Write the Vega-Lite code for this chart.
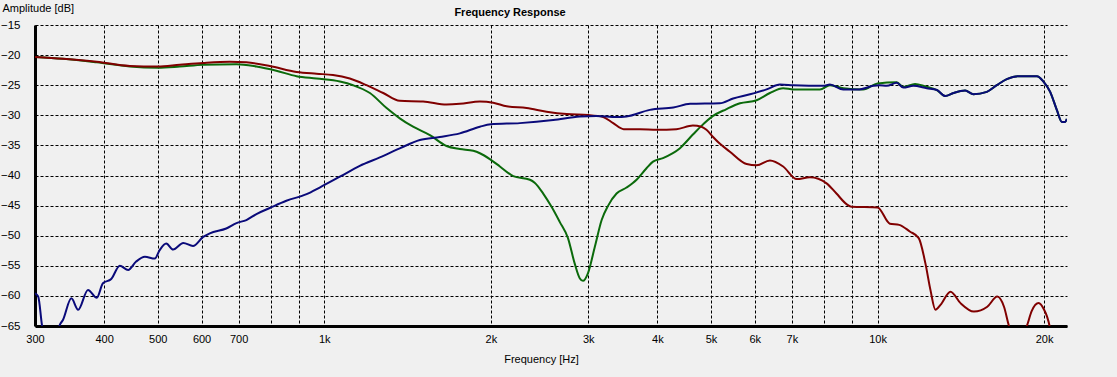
{
  "$schema": "https://vega.github.io/schema/vega-lite/v6.json",
  "width": 1032,
  "height": 301,
  "autosize": {"type": "none"},
  "padding": {"left": 35, "top": 25, "right": 50, "bottom": 51},
  "background": "#f0f0f0",
  "title": {"text": "Frequency Response", "anchor": "middle", "dx": -41, "dy": 24, "offset": 8, "font": "Liberation Sans", "fontSize": 11, "fontWeight": "bold", "color": "#000000"},
  "config": {"view": {"stroke": null}, "font": "Liberation Sans", "axis": {"labelOverlap": false, "labelSeparation": 0}},
  "datasets": {
    "red": [
      {"f": 300, "db": -20.3}, {"f": 337, "db": -20.6}, {"f": 388, "db": -21.1}, {"f": 445, "db": -21.8},
      {"f": 500, "db": -21.9}, {"f": 548, "db": -21.6}, {"f": 604, "db": -21.3}, {"f": 675, "db": -21.1},
      {"f": 723, "db": -21.2}, {"f": 797, "db": -21.8}, {"f": 891, "db": -22.8}, {"f": 968, "db": -23.1},
      {"f": 1037, "db": -23.3}, {"f": 1112, "db": -23.9}, {"f": 1192, "db": -25.0}, {"f": 1278, "db": -26.3},
      {"f": 1369, "db": -27.6}, {"f": 1509, "db": -27.7}, {"f": 1663, "db": -28.2}, {"f": 1758, "db": -28.1},
      {"f": 1911, "db": -27.7}, {"f": 2020, "db": -27.9}, {"f": 2136, "db": -28.5}, {"f": 2321, "db": -28.8},
      {"f": 2522, "db": -29.4}, {"f": 2742, "db": -29.8}, {"f": 3000, "db": -29.95}, {"f": 3193, "db": -30.3},
      {"f": 3328, "db": -31.3}, {"f": 3477, "db": -32.3}, {"f": 3720, "db": -32.3}, {"f": 3988, "db": -32.4},
      {"f": 4330, "db": -32.3}, {"f": 4637, "db": -31.7}, {"f": 4803, "db": -31.9}, {"f": 4906, "db": -32.4},
      {"f": 5043, "db": -33.6}, {"f": 5184, "db": -34.7}, {"f": 5402, "db": -36.0}, {"f": 5800, "db": -38.1},
      {"f": 6045, "db": -38.3}, {"f": 6389, "db": -37.5}, {"f": 6751, "db": -38.5}, {"f": 7144, "db": -40.6},
      {"f": 7547, "db": -40.3}, {"f": 8089, "db": -41.3}, {"f": 8428, "db": -43.0}, {"f": 8800, "db": -44.8},
      {"f": 8975, "db": -45.2}, {"f": 10000, "db": -45.3}, {"f": 10525, "db": -48.0}, {"f": 10944, "db": -48.2},
      {"f": 11436, "db": -49.3}, {"f": 11870, "db": -50.4}, {"f": 12204, "db": -54.6}, {"f": 12462, "db": -59.0},
      {"f": 12725, "db": -62.3}, {"f": 12993, "db": -61.5}, {"f": 13547, "db": -59.3}, {"f": 14124, "db": -61.2},
      {"f": 14934, "db": -62.6}, {"f": 15789, "db": -61.8}, {"f": 16461, "db": -60.1}, {"f": 16926, "db": -61.8},
      {"f": 17281, "db": -65.0}, {"f": 17900, "db": -68.0}, {"f": 18613, "db": -65.0}, {"f": 19000, "db": -62.5},
      {"f": 19553, "db": -61.2}, {"f": 20000, "db": -62.3}, {"f": 20240, "db": -63.4}, {"f": 20462, "db": -65.0},
      {"f": 20700, "db": -68.0}
    ],
    "green": [
      {"f": 300, "db": -20.3}, {"f": 337, "db": -20.6}, {"f": 388, "db": -21.2}, {"f": 445, "db": -21.9},
      {"f": 500, "db": -22.1}, {"f": 548, "db": -21.9}, {"f": 604, "db": -21.6}, {"f": 694, "db": -21.5},
      {"f": 754, "db": -21.9}, {"f": 819, "db": -22.6}, {"f": 891, "db": -23.5}, {"f": 968, "db": -23.9},
      {"f": 1067, "db": -24.4}, {"f": 1127, "db": -25.0}, {"f": 1209, "db": -26.3}, {"f": 1296, "db": -28.8},
      {"f": 1369, "db": -30.5}, {"f": 1447, "db": -31.9}, {"f": 1552, "db": -33.3}, {"f": 1663, "db": -35.1},
      {"f": 1758, "db": -35.6}, {"f": 1859, "db": -35.9}, {"f": 1911, "db": -36.3}, {"f": 2000, "db": -37.4},
      {"f": 2077, "db": -38.5}, {"f": 2195, "db": -40.1}, {"f": 2353, "db": -40.7}, {"f": 2400, "db": -41.2},
      {"f": 2487, "db": -43.0}, {"f": 2575, "db": -45.2}, {"f": 2664, "db": -47.7}, {"f": 2757, "db": -50.4},
      {"f": 2835, "db": -54.6}, {"f": 2897, "db": -57.1}, {"f": 2935, "db": -57.5}, {"f": 2997, "db": -56.2},
      {"f": 3084, "db": -51.8}, {"f": 3172, "db": -47.4}, {"f": 3259, "db": -45.0}, {"f": 3375, "db": -43.0},
      {"f": 3518, "db": -42.0}, {"f": 3668, "db": -40.7}, {"f": 3823, "db": -38.8}, {"f": 3928, "db": -37.7},
      {"f": 4094, "db": -37.1}, {"f": 4389, "db": -35.5}, {"f": 4637, "db": -33.2}, {"f": 4800, "db": -31.8},
      {"f": 5043, "db": -30.1}, {"f": 5324, "db": -29.0}, {"f": 5641, "db": -28.0}, {"f": 6045, "db": -27.5},
      {"f": 6389, "db": -26.3}, {"f": 6751, "db": -25.5}, {"f": 7045, "db": -25.7}, {"f": 7868, "db": -25.7},
      {"f": 8203, "db": -25.0}, {"f": 8673, "db": -25.5}, {"f": 9417, "db": -25.7}, {"f": 10000, "db": -24.7},
      {"f": 10831, "db": -24.5}, {"f": 11135, "db": -25.3}, {"f": 11690, "db": -24.8}, {"f": 12190, "db": -25.2},
      {"f": 12802, "db": -25.8}, {"f": 13251, "db": -26.8}, {"f": 13717, "db": -26.3}, {"f": 14398, "db": -25.9},
      {"f": 14904, "db": -26.5}, {"f": 15760, "db": -26.1}, {"f": 16428, "db": -25.0}, {"f": 17124, "db": -24.0},
      {"f": 17970, "db": -23.5}, {"f": 19409, "db": -23.5}, {"f": 19948, "db": -24.4}, {"f": 20512, "db": -26.1},
      {"f": 21086, "db": -29.1}, {"f": 21535, "db": -31.1}, {"f": 21834, "db": -31.1}, {"f": 21987, "db": -30.6}
    ],
    "blue": [
      {"f": 300, "db": -59.6}, {"f": 304, "db": -60.1}, {"f": 309, "db": -65.0}, {"f": 318, "db": -69.0},
      {"f": 328, "db": -67.0}, {"f": 332, "db": -65.0}, {"f": 337, "db": -64.0}, {"f": 349, "db": -60.4},
      {"f": 359, "db": -62.3}, {"f": 374, "db": -59.0}, {"f": 388, "db": -60.3}, {"f": 398, "db": -57.9},
      {"f": 412, "db": -57.2}, {"f": 427, "db": -55.0}, {"f": 442, "db": -55.7}, {"f": 457, "db": -54.3},
      {"f": 474, "db": -53.5}, {"f": 494, "db": -53.8}, {"f": 504, "db": -52.4}, {"f": 518, "db": -51.3},
      {"f": 533, "db": -52.3}, {"f": 556, "db": -51.2}, {"f": 579, "db": -51.7}, {"f": 604, "db": -50.2},
      {"f": 621, "db": -49.6}, {"f": 665, "db": -48.8}, {"f": 694, "db": -47.9}, {"f": 723, "db": -47.4},
      {"f": 754, "db": -46.4}, {"f": 797, "db": -45.4}, {"f": 854, "db": -44.2}, {"f": 929, "db": -43.1},
      {"f": 981, "db": -42.0}, {"f": 1067, "db": -40.2}, {"f": 1159, "db": -38.4}, {"f": 1260, "db": -37.0},
      {"f": 1369, "db": -35.5}, {"f": 1488, "db": -34.1}, {"f": 1618, "db": -33.6}, {"f": 1758, "db": -33.0},
      {"f": 1911, "db": -31.9}, {"f": 2000, "db": -31.5}, {"f": 2257, "db": -31.3}, {"f": 2593, "db": -30.8},
      {"f": 2897, "db": -30.2}, {"f": 3102, "db": -30.1}, {"f": 3375, "db": -30.3}, {"f": 3518, "db": -30.2},
      {"f": 3876, "db": -29.1}, {"f": 4274, "db": -28.7}, {"f": 4584, "db": -28.1}, {"f": 5184, "db": -28.0},
      {"f": 5483, "db": -27.2}, {"f": 5880, "db": -26.5}, {"f": 6301, "db": -25.7}, {"f": 6661, "db": -24.9},
      {"f": 7045, "db": -25.0}, {"f": 7977, "db": -25.1}, {"f": 8203, "db": -24.9}, {"f": 8673, "db": -25.7},
      {"f": 9273, "db": -25.7}, {"f": 9827, "db": -25.1}, {"f": 10065, "db": -25.0}, {"f": 10390, "db": -25.1},
      {"f": 10831, "db": -24.6}, {"f": 11135, "db": -25.4}, {"f": 11606, "db": -25.1}, {"f": 12274, "db": -25.5},
      {"f": 12802, "db": -25.8}, {"f": 13251, "db": -26.8}, {"f": 13717, "db": -26.3}, {"f": 14398, "db": -25.9},
      {"f": 14904, "db": -26.5}, {"f": 15760, "db": -26.1}, {"f": 16428, "db": -25.0}, {"f": 17124, "db": -24.0},
      {"f": 17970, "db": -23.5}, {"f": 19409, "db": -23.5}, {"f": 19948, "db": -24.4}, {"f": 20512, "db": -26.1},
      {"f": 21086, "db": -29.1}, {"f": 21535, "db": -31.1}, {"f": 21834, "db": -31.1}, {"f": 21987, "db": -30.6}
    ]
  },
  "encoding": {
    "x": {
      "field": "f", "type": "quantitative",
      "scale": {"type": "log", "domain": [300, 22000], "nice": false},
      "axis": {
        "values": [300, 400, 500, 600, 700, 800, 900, 1000, 2000, 3000, 4000, 5000, 6000, 7000, 8000, 9000, 10000, 20000],
        "labelExpr": "indexof([800, 900, 8000, 9000], datum.value) >= 0 ? '' : (datum.value >= 1000 ? (datum.value / 1000) + 'k' : '' + datum.value)",
        "grid": true, "gridColor": "#000000", "gridDash": [3, 2], "gridWidth": 1, "gridOpacity": 1,
        "domain": true, "domainColor": "#000000", "domainWidth": 3,
        "ticks": false, "labelPadding": 7, "labelFontSize": 11, "labelColor": "#000000", "labelFont": "Liberation Sans",
        "labelOverlap": false, "labelFlush": false, "labelBound": false,
        "title": "Frequency [Hz]", "titleFontWeight": "normal", "titleFontSize": 11, "titleFont": "Liberation Sans", "titleColor": "#000000",
        "titleX": 506, "titleY": 33, "titleBaseline": "middle", "titleAlign": "center"
      }
    },
    "y": {
      "field": "db", "type": "quantitative",
      "scale": {"domain": [-65, -15], "nice": false, "zero": false},
      "axis": {
        "values": [-65, -60, -55, -50, -45, -40, -35, -30, -25, -20, -15],
        "grid": true, "gridColor": "#000000", "gridDash": [3, 2], "gridWidth": 1, "gridOpacity": 1,
        "domain": true, "domainColor": "#000000", "domainWidth": 3,
        "ticks": false, "labelPadding": 15, "labelFontSize": 11.5, "labelColor": "#000000", "labelFont": "Liberation Sans",
        "labelOverlap": false, "labelFlush": false, "labelBound": false,
        "title": "Amplitude [dB]", "titleFontWeight": "normal", "titleFontSize": 11, "titleFont": "Liberation Sans", "titleColor": "#000000",
        "titleAngle": 0, "titleX": -33, "titleY": -17, "titleAlign": "left", "titleBaseline": "middle"
      }
    }
  },
  "layer": [
    {
      "data": {"name": "green"},
      "mark": {"type": "line", "clip": true, "strokeWidth": 2, "color": "#0b6a0b", "interpolate": "monotone"}
    },
    {
      "data": {"name": "red"},
      "mark": {"type": "line", "clip": true, "strokeWidth": 2, "color": "#800000", "interpolate": "monotone"}
    },
    {
      "data": {"name": "blue"},
      "mark": {"type": "line", "clip": true, "strokeWidth": 2, "color": "#0a0a7a", "interpolate": "monotone"}
    },
    {
      "data": {"values": [{}]},
      "mark": {"type": "rule", "color": "#000000", "strokeWidth": 3},
      "encoding": {
        "x": {"datum": 300},
        "x2": {"datum": 23400},
        "y": {"datum": -65}
      }
    }
  ]
}
